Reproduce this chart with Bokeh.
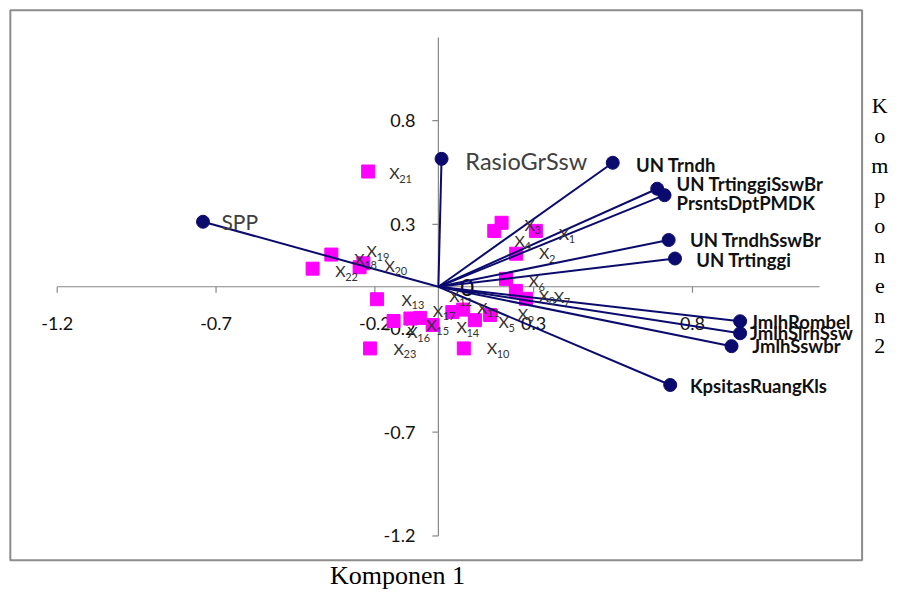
import math
from bokeh.plotting import figure
from bokeh.models import Range1d
from bokeh.embed import file_html
from bokeh.resources import INLINE
from bokeh.core.properties import value

# ---------------- data ----------------
var_names = ["SPP", "RasioGrSsw", "UN Trndh", "UN TrtinggiSswBr", "PrsntsDptPMDK",
             "UN TrndhSswBr", "UN Trtinggi", "JmlhRombel", "JmlhSlrhSsw",
             "JmlhSswbr", "KpsitasRuangKls"]
var_x = [-0.741, 0.010, 0.549, 0.689, 0.712, 0.725, 0.745, 0.950, 0.950, 0.923, 0.730]
var_y = [0.313, 0.616, 0.597, 0.472, 0.441, 0.225, 0.136, -0.166, -0.224, -0.286, -0.473]
var_lab_x = [-0.683, 0.085, 0.622, 0.750, 0.750, 0.792, 0.812, 0.981, 0.981, 0.988, 0.792]
var_lab_y = [0.314, 0.605, 0.586, 0.496, 0.402, 0.225, 0.131, -0.169, -0.224, -0.286, -0.478]

obj_names = [str(i) for i in range(1, 24)]
obj_x = [0.307, 0.245, 0.199, 0.176, 0.163, 0.213, 0.276, 0.244, 0.115, 0.080, 0.078, 0.044,
         -0.193, -0.018, -0.057, -0.141, -0.088, -0.248, -0.337, -0.236, -0.221, -0.396, -0.215]
obj_y = [0.269, 0.159, 0.308, 0.269, -0.136, 0.038, -0.058, -0.020, -0.161, -0.297, -0.110, -0.122,
         -0.060, -0.184, -0.150, -0.165, -0.153, 0.094, 0.155, 0.113, 0.555, 0.087, -0.297]
obj_lab_x = [0.379, 0.317, 0.271, 0.240, 0.189, 0.284, 0.363, 0.316, 0.250, 0.152, 0.122, 0.034,
             -0.116, 0.057, -0.038, -0.098, -0.018, -0.265, -0.226, -0.170, -0.155, -0.325, -0.141]
obj_lab_y = [0.258, 0.164, 0.300, 0.225, -0.169, 0.028, -0.045, -0.040, -0.130, -0.294, -0.098, -0.044,
             -0.060, -0.192, -0.184, -0.216, -0.114, 0.136, 0.174, 0.103, 0.550, 0.078, -0.297]

ticks = [-1.2, -0.7, -0.2, 0.3, 0.8]
tick_labels = ["-1.2", "-0.7", "-0.2", "0.3", "0.8"]
axis_lim = 1.2

# ---------------- layout ----------------
W, H = 895, 591                 # canvas size
RW, RH = 911, 607               # design size
SX, SY = 323.3, 213.3           # design pixels per unit
OX, OY = 445.7, 294.0           # origin in design pixels
def dx(px): return (px - OX) / SX
def dy(py): return (OY - py) / SY

p = figure(width=W, height=H, output_backend="svg", toolbar_location=None,
           x_range=Range1d(dx(0), dx(RW)), y_range=Range1d(dy(RH), dy(0)),
           x_axis_type=None, y_axis_type=None, min_border=0, title=None)
p.outline_line_color = None
p.background_fill_color = "white"
p.border_fill_color = "white"

NAVY = "#0b0b6e"
GRAY = "#878787"
FONT = value("Lato")

# outer frame
p.quad(left=[dx(10)], right=[dx(877)], top=[dy(10)], bottom=[dy(575)],
       fill_color=None, line_color="#8c8c8c", line_width=2)

# axes through origin
p.segment(x0=[-axis_lim, 0], y0=[0, -axis_lim], x1=[axis_lim, 0], y1=[0, axis_lim],
          line_color=GRAY, line_width=1.2)
p.ray(x=ticks, y=[0] * len(ticks), length=6, length_units="screen",
      angle=-math.pi / 2, line_color=GRAY, line_width=1.2)
p.ray(x=[0] * len(ticks), y=ticks, length=6, length_units="screen",
      angle=math.pi, line_color=GRAY, line_width=1.2)
p.text(x=ticks, y=[0] * len(ticks), text=tick_labels, y_offset=37,
       text_align="center", text_baseline="middle", text_font=FONT,
       text_font_size="18px", text_color="#111111")
p.text(x=[0] * len(ticks), y=ticks, text=tick_labels, x_offset=-23,
       text_align="right", text_baseline="middle", text_font=FONT,
       text_font_size="18px", text_color="#111111")
p.text(x=[0], y=[0], text=["0"], x_offset=22, y_offset=1, text_align="left",
       text_baseline="middle", text_font=FONT, text_font_size="24px",
       text_color="#111111")

# object scores
p.scatter(x=obj_x, y=obj_y, marker="square", size=13, color="#ff00ff")

# variable vectors
p.segment(x0=[0] * len(var_x), y0=[0] * len(var_y), x1=var_x, y1=var_y,
          line_color=NAVY, line_width=2)
p.scatter(x=var_x, y=var_y, marker="circle", size=13, color=NAVY)

# variable labels
bold = list(range(2, len(var_names)))
p.text(x=[var_lab_x[0]], y=[var_lab_y[0]], text=[var_names[0]],
       text_align="left", text_baseline="middle",
       text_font=FONT, text_font_size="21px", text_color="#404040")
p.text(x=[var_lab_x[1]], y=[var_lab_y[1]], text=[var_names[1]],
       text_align="left", text_baseline="middle",
       text_font=FONT, text_font_size="23.5px", text_color="#404040")
p.text(x=[var_lab_x[i] for i in bold], y=[var_lab_y[i] for i in bold],
       text=[var_names[i] for i in bold], text_align="left", text_baseline="middle",
       text_font=FONT, text_font_size="18.5px", text_font_style="bold",
       text_color="#111111")

# object labels X with subscripts
p.text(x=obj_lab_x, y=obj_lab_y, text=["X"] * len(obj_names), text_align="left",
       text_baseline="middle", text_font=FONT, text_font_size="16px",
       text_color="#333333")
p.text(x=obj_lab_x, y=obj_lab_y, text=obj_names, x_offset=10, y_offset=6,
       text_align="left", text_baseline="middle", text_font=FONT,
       text_font_size="11px", text_color="#333333")

# axis titles
p.text(x=[dx(404)], y=[dy(605)], text=["Komponen 1"], text_align="center",
       text_baseline="bottom", text_font=value("Liberation Serif"),
       text_font_size="26px", text_color="#000000")
p.text(x=[dx(895)], y=[dy(231)], text=["K\no\nm\np\no\nn\ne\nn\n2"],
       text_align="center", text_baseline="middle",
       text_font=value("Liberation Serif"), text_font_size="22px",
       text_color="#000000")

open("out.html", "w").write(file_html(p, INLINE))
